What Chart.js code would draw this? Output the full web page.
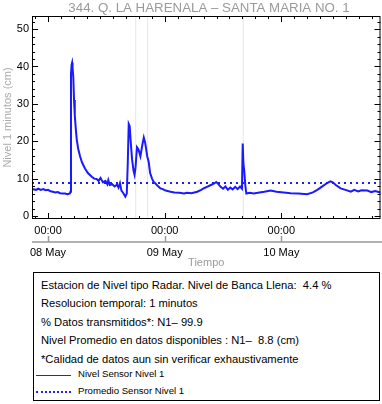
<!DOCTYPE html>
<html>
<head>
<meta charset="utf-8">
<script src="https://cdn.jsdelivr.net/npm/chart.js@4.4.0/dist/chart.umd.min.js"></script>
<style>
  body { margin: 0; background: #fff; font-family: 'Liberation Sans', Arial, sans-serif; }
  #wrap { position: absolute; left: 0; top: 0; width: 382px; height: 270px; }
  #info { position: absolute; left: 33px; top: 272px; width: 347px; height: 129px; box-sizing: border-box; border: 1px solid #000; }
  #info .ln { position: absolute; left: 7px; font-size: 11.2px; line-height: 14px; color: #000; white-space: pre; }
  #info .lg { position: absolute; left: 44px; font-size: 9.6px; line-height: 12px; color: #000; white-space: pre; }
  #info .sw { position: absolute; left: 2px; width: 35px; height: 0; }
</style>
</head>
<body>
<div id="wrap"><canvas id="chart"></canvas></div>
<div id="info">
  <div class="ln" style="top:5px">Estacion de Nivel tipo Radar. Nivel de Banca Llena:  4.4 %</div>
  <div class="ln" style="top:23px">Resolucion temporal: 1 minutos</div>
  <div class="ln" style="top:42px">% Datos transmitidos*: N1&#8211; 99.9</div>
  <div class="ln" style="top:60px">Nivel Promedio en datos disponibles : N1&#8211;  8.8 (cm)</div>
  <div class="ln" style="top:79px">*Calidad de datos aun sin verificar exhaustivamente</div>
  <div class="sw" style="top:102px; border-top:1px solid #2020ff"></div>
  <div class="lg" style="top:95px">Nivel Sensor Nivel 1</div>
  <div class="sw" style="top:118px; border-top:2px dotted #2020ff"></div>
  <div class="lg" style="top:112px">Promedio Sensor Nivel 1</div>
</div>
<script>
// Hours counted from 08 May 00:00
const hours = [
  -3.3, -2.5, -2.0, -1.5, -1.0, -0.5, 0, 0.5, 1.0, 1.5, 2.0, 2.5, 3.0, 3.5, 4.0, 4.5,
  4.6, 4.72, 4.85, 4.95, 5.05, 5.2, 5.35, 5.5, 5.7, 5.9, 6.2, 6.6, 7.0, 7.6, 8.2, 9.0,
  9.5, 10.0, 10.4, 10.8, 11.3, 11.8, 12.2, 12.4, 12.7, 13.2, 13.7, 14.2, 14.5, 14.8, 15.1, 15.5,
  15.9, 16.2, 16.4, 16.6, 16.8, 17.0, 17.3, 17.6, 17.8, 18.0, 18.3, 18.6, 19.0, 19.4, 19.7, 20.0,
  20.4, 20.7, 21.0, 21.4, 21.7, 22.1, 22.6, 23.1, 23.6, 24.2, 25.2, 26.0, 27.0, 28.0, 28.6, 29.5,
  30.7, 31.5, 32.2, 32.7, 33.5, 34.2, 34.6, 35.0, 35.5, 36.0, 36.5, 37.0, 37.5, 38.0, 38.5, 39.0,
  39.5, 39.9, 40.05, 40.2, 40.35, 40.6, 40.8, 41.5, 42.3, 43.5, 44.5, 45.8, 47.0, 48.5, 49.9, 51.5,
  53.3, 54.5, 55.4, 56.5, 57.5, 58.1, 58.6, 59.2, 60.2, 61.2, 62.3, 63.0, 63.8, 64.5, 65.7, 66.5,
  67.3, 68.4
];
const nivel = [
  7.2, 7.0, 7.3, 7.0, 7.2, 6.9, 7.0, 6.6, 6.5, 6.3, 6.4, 6.1, 6.0, 6.0, 5.8, 6.0,
  6.5, 38.0, 40.5, 41.0, 39.5, 37.0, 31.0, 27.0, 23.5, 20.5, 18.0, 15.9, 14.3, 12.7, 11.5, 10.5,
  10.0, 9.9, 9.4, 10.2, 9.0, 9.4, 8.5, 9.6, 8.3, 8.5, 7.9, 8.4, 7.6, 8.8, 6.8, 6.1,
  5.2, 6.0, 14.0, 24.6, 24.0, 20.0, 15.0, 12.0, 11.0, 13.0, 18.4, 17.8, 16.0, 19.0, 21.0, 19.5,
  16.0, 14.5, 11.5, 10.0, 9.2, 8.7, 8.0, 7.4, 7.2, 6.8, 6.5, 6.3, 6.2, 6.0, 6.2, 6.1,
  6.5, 7.0, 7.5, 7.8, 8.3, 8.7, 9.1, 8.6, 7.8, 7.3, 7.9, 7.0, 7.6, 7.1, 7.8, 7.2,
  7.9, 7.3, 19.4, 14.0, 12.3, 8.0, 6.0, 6.2, 6.0, 6.3, 6.5, 6.8, 6.5, 6.3, 6.1, 6.0,
  5.8, 6.3, 7.0, 8.0, 8.9, 9.3, 9.0, 8.3, 7.4, 7.0, 6.5, 7.0, 6.6, 6.9, 6.8, 6.4,
  6.7, 6.3
];
const promedio = 8.8;
const gapHours = [18.04, 20.48, 40.15];
const dayTicks = [0, 24, 48];
const dayLabels = ['08 May', '09 May', '10 May'];
const yTicks = [0, 10, 20, 30, 40, 50];

const xMin = -3.3, xMax = 68.4;
const yMin = -0.8, yMax = 53.5;
const blue = '#1a1aff';
const fontFam = "'Liberation Sans', Arial, sans-serif";

const datasets = [];
gapHours.forEach(g => {
    datasets.push({
        data: [{ x: g, y: yMin }, { x: g, y: yMax }],
        borderColor: '#e6e6e6', borderWidth: 1, pointRadius: 0, order: 3
    });
});
datasets.push({
    data: hours.map((h, i) => ({ x: h, y: nivel[i] })),
    borderColor: blue, borderWidth: 2, pointRadius: 0, tension: 0, order: 1
});
datasets.push({
    data: [{ x: xMin, y: promedio }, { x: xMax, y: promedio }],
    borderColor: blue, borderWidth: 2, borderDash: [2, 4], pointRadius: 0, order: 2
});

// frame, inward ticks, title and the date axis
const framePlugin = {
    id: 'frame',
    afterDraw(chart) {
        const ctx = chart.ctx;
        const a = chart.chartArea;
        const xs = chart.scales.x, ys = chart.scales.y;
        ctx.save();
        ctx.strokeStyle = '#000';
        ctx.lineWidth = 1;
        ctx.strokeRect(a.left + 0.5, a.top + 0.5, a.right - a.left - 1, a.bottom - a.top - 1);
        ctx.beginPath();
        for (let v = 0; v <= 52; v += 2) {
            const y = Math.round(ys.getPixelForValue(v)) + 0.5;
            const len = v % 10 === 0 ? 6 : 3;
            ctx.moveTo(a.left, y); ctx.lineTo(a.left + len, y);
            ctx.moveTo(a.right, y); ctx.lineTo(a.right - len, y);
        }
        const step = 24 / 9;
        for (let k = Math.ceil(xMin / step); k * step <= xMax; k++) {
            const x = Math.round(xs.getPixelForValue(k * step)) + 0.5;
            const len = k % 9 === 0 ? 6 : 3;
            ctx.moveTo(x, a.bottom); ctx.lineTo(x, a.bottom - len);
            ctx.moveTo(x, a.top); ctx.lineTo(x, a.top + len);
        }
        ctx.stroke();

        // title
        ctx.fillStyle = '#9a9a9a';
        ctx.font = '13.3px ' + fontFam;
        ctx.textAlign = 'center';
        ctx.textBaseline = 'middle';
        ctx.fillText('344. Q. LA HARENALA \u2013 SANTA MARIA NO. 1', 209, 8);

        // date axis
        ctx.strokeStyle = '#999';
        ctx.beginPath();
        ctx.moveTo(a.left, 242); ctx.lineTo(chart.width, 242);
        dayTicks.forEach(d => {
            const x = Math.round(xs.getPixelForValue(d)) + 0.5;
            ctx.moveTo(x, 242); ctx.lineTo(x, 236);
        });
        ctx.lineWidth = 1.5;
        ctx.stroke();
        ctx.fillStyle = '#000';
        ctx.font = '11px ' + fontFam;
        dayTicks.forEach((d, i) => {
            ctx.fillText(dayLabels[i], xs.getPixelForValue(d), 253);
        });
        ctx.restore();
    }
};

new Chart(document.getElementById('chart'), {
    type: 'line',
    data: { datasets },
    options: {
        responsive: true,
        maintainAspectRatio: false,
        animation: false,
        layout: { padding: { top: 16, right: 1.5, left: 0, bottom: 0 } },
        plugins: { legend: { display: false }, tooltip: { enabled: false } },
        scales: {
            x: {
                type: 'linear', min: xMin, max: xMax,
                grid: { display: false, drawTicks: false },
                border: { display: false },
                afterBuildTicks: s => { s.ticks = dayTicks.map(v => ({ value: v })); },
                afterFit: s => { s.height = 51; },
                ticks: {
                    autoSkip: false, maxRotation: 0, padding: 5, color: '#000',
                    font: { size: 11, family: fontFam },
                    callback: () => '00:00'
                },
                title: {
                    display: true, text: 'Tiempo', color: '#9a9a9a',
                    font: { size: 11, family: fontFam }, padding: 0
                }
            },
            y: {
                min: yMin, max: yMax,
                grid: { display: false, drawTicks: false },
                border: { display: false },
                afterBuildTicks: s => { s.ticks = yTicks.map(v => ({ value: v })); },
                afterFit: s => { s.width = 32; },
                ticks: {
                    padding: 3, color: '#000',
                    font: { size: 11, family: fontFam }
                },
                title: {
                    display: true, text: 'Nivel 1 minutos (cm)', color: '#aaaaaa',
                    font: { size: 11, family: fontFam }, padding: { top: 1.5, bottom: 0 }
                }
            }
        }
    },
    plugins: [framePlugin]
});
</script>
</body>
</html>
